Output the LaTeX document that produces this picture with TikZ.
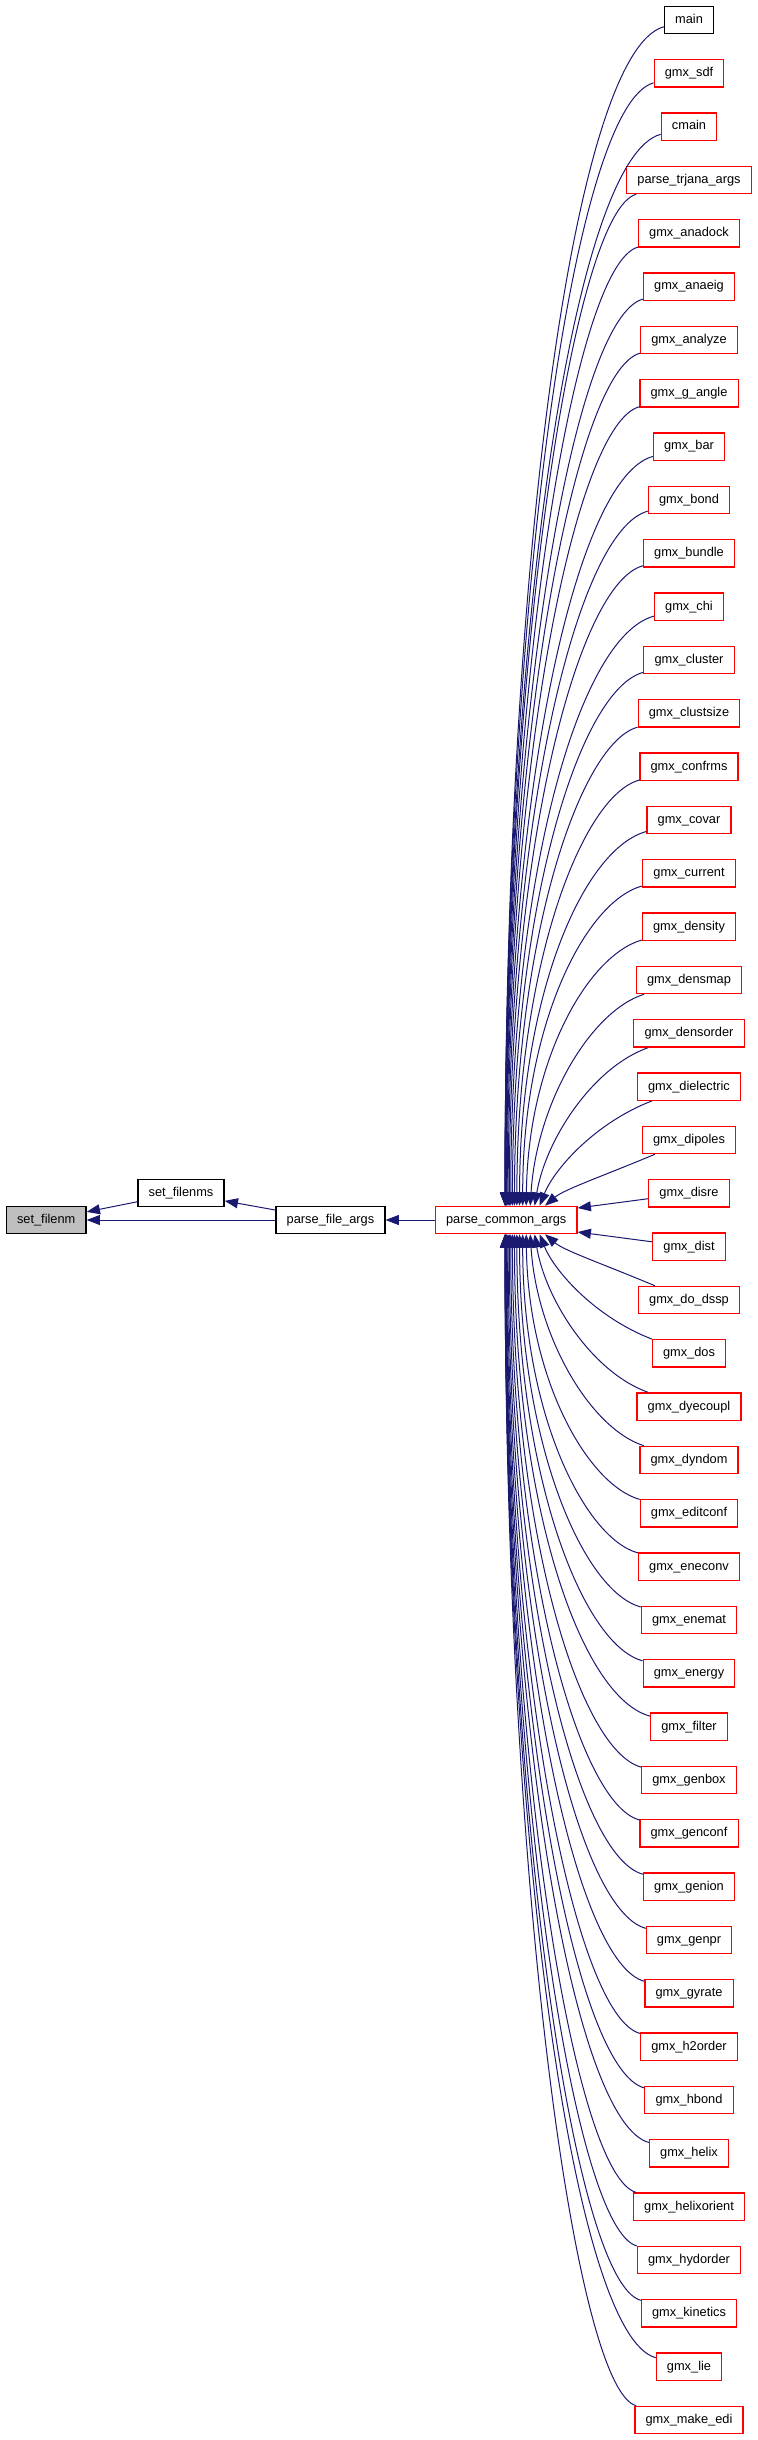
\documentclass[tikz,border=0pt]{standalone}
\usepackage{fontspec}
\setmainfont{Liberation Sans}
\usetikzlibrary{arrows.meta}
\definecolor{myred}{rgb}{1,0,0}
\definecolor{myedge}{rgb}{0.1,0.1,0.44}
\definecolor{mygray}{rgb}{0.75,0.75,0.75}

\begin{document}
\begin{tikzpicture}[x=0.75pt,y=-0.75pt,
  fnbox/.style={draw=black,fill=white,line width=0.9pt,minimum height=20.5pt,
    inner xsep=8pt,inner ysep=0pt,text height=7pt,text depth=2pt,
    font=\fontsize{9.6}{11}\selectfont},
  fnlink/.style={fnbox,draw=myred},
  fncur/.style={fnbox,fill=mygray},
  callarrow/.style={myedge,line width=0.75pt,-{Triangle[length=10pt,width=7.5pt]}}]
  \useasboundingbox (0,0) rectangle (757,2440);
  % left chain
  \node[fncur]  (setfilenm)  at (46.2,1220)  {set\_filenm};
  \node[fnbox]  (setfilenms) at (181,1193)   {set\_filenms};
  \node[fnbox]  (pfa)        at (330.5,1220) {parse\_file\_args};
  \node[fnlink] (pca)        at (506.2,1220) {parse\_common\_args};
  \draw[callarrow] (setfilenms) -- (setfilenm);
  \draw[callarrow] (pfa) -- (setfilenm);
  \draw[callarrow] (pfa) -- (setfilenms);
  \draw[callarrow] (pca) -- (pfa);
  % callers of parse_common_args
  \foreach \nm/\lbl/\sty [count=\i from 0] in {main/main/fnbox,
      sdf/gmx\_sdf/fnlink, cmain/cmain/fnlink, trjana/parse\_trjana\_args/fnlink,
      anadock/gmx\_anadock/fnlink, anaeig/gmx\_anaeig/fnlink,
      analyze/gmx\_analyze/fnlink, gangle/gmx\_g\_angle/fnlink,
      bar/gmx\_bar/fnlink, bond/gmx\_bond/fnlink, bundle/gmx\_bundle/fnlink,
      chi/gmx\_chi/fnlink, cluster/gmx\_cluster/fnlink,
      clustsize/gmx\_clustsize/fnlink, confrms/gmx\_confrms/fnlink,
      covar/gmx\_covar/fnlink, current/gmx\_current/fnlink,
      density/gmx\_density/fnlink, densmap/gmx\_densmap/fnlink,
      densorder/gmx\_densorder/fnlink, dielectric/gmx\_dielectric/fnlink,
      dipoles/gmx\_dipoles/fnlink, disre/gmx\_disre/fnlink,
      dist/gmx\_dist/fnlink, dodssp/gmx\_do\_dssp/fnlink,
      dos/gmx\_dos/fnlink, dyecoupl/gmx\_dyecoupl/fnlink,
      dyndom/gmx\_dyndom/fnlink, editconf/gmx\_editconf/fnlink,
      eneconv/gmx\_eneconv/fnlink, enemat/gmx\_enemat/fnlink,
      energy/gmx\_energy/fnlink, filter/gmx\_filter/fnlink,
      genbox/gmx\_genbox/fnlink, genconf/gmx\_genconf/fnlink,
      genion/gmx\_genion/fnlink, genpr/gmx\_genpr/fnlink,
      gyrate/gmx\_gyrate/fnlink, htwoorder/gmx\_h2order/fnlink,
      hbond/gmx\_hbond/fnlink, helix/gmx\_helix/fnlink,
      helixorient/gmx\_helixorient/fnlink, hydorder/gmx\_hydorder/fnlink,
      kinetics/gmx\_kinetics/fnlink, lie/gmx\_lie/fnlink,
      makeedi/gmx\_make\_edi/fnlink}
    \node[\sty] (\nm) at (689,{20+53.333*\i}) {\lbl};
  % curved calls, above and below
  \foreach \nm [count=\i from 0] in {main,sdf,cmain,trjana,anadock,anaeig,
      analyze,gangle,bar,bond,bundle,chi,cluster,clustsize,confrms,covar,
      current,density,densmap,densorder,dielectric,dipoles,disre,dist,dodssp,
      dos,dyecoupl,dyndom,editconf,eneconv,enemat,energy,filter,genbox,genconf,
      genion,genpr,gyrate,htwoorder,hbond,helix,helixorient,hydorder,kinetics,
      lie,makeedi}{
    \ifnum\i=22 \else\ifnum\i=23 \else
      \pgfmathsetmacro\sg{\i<22 ? -1 : 1}
      \pgfmathsetmacro\rk{\i<22 ? \i : 45-\i}
      \pgfmathsetmacro\yi{20+53.333*\i}
      \pgfmathsetmacro\ye{\i<22 ? 1206.3 : 1233.7}
      \pgfmathsetmacro\xe{505+40*(\rk/21)^3}
      \pgfmathsetmacro\gapy{abs(\ye-\yi)}
      \pgfmathsetmacro\gapx{689-\xe}
      \pgfmathsetmacro\tw{min(1,\gapy/300)}
      \pgfmathsetmacro\xa{\xe+0.17*(1-\tw)*\gapx}
      \pgfmathsetmacro\ya{\ye+\sg*(0.17+0.38*\tw)*\gapy}
      \pgfmathsetmacro\xb{689-0.62*\gapx}
      \pgfmathsetmacro\yb{\yi-\sg*(0.46*(1-\tw)+0.27*\tw)*0.62*\gapx}
      \pgfmathsetmacro\xo{(\xe-506.2)*0.75}
      \ifnum\i<22 \def\side{north}\else\def\side{south}\fi
      \draw[callarrow] (\nm) .. controls (\xb,\yb) and (\xa,\ya)
        .. ([xshift=\xo pt]pca.\side);
    \fi\fi}
  % straight calls from the side
  \draw[callarrow] (disre) -- ([yshift=9pt]pca.east);
  \draw[callarrow] (dist) -- ([yshift=-9pt]pca.east);
\end{tikzpicture}
\end{document}
